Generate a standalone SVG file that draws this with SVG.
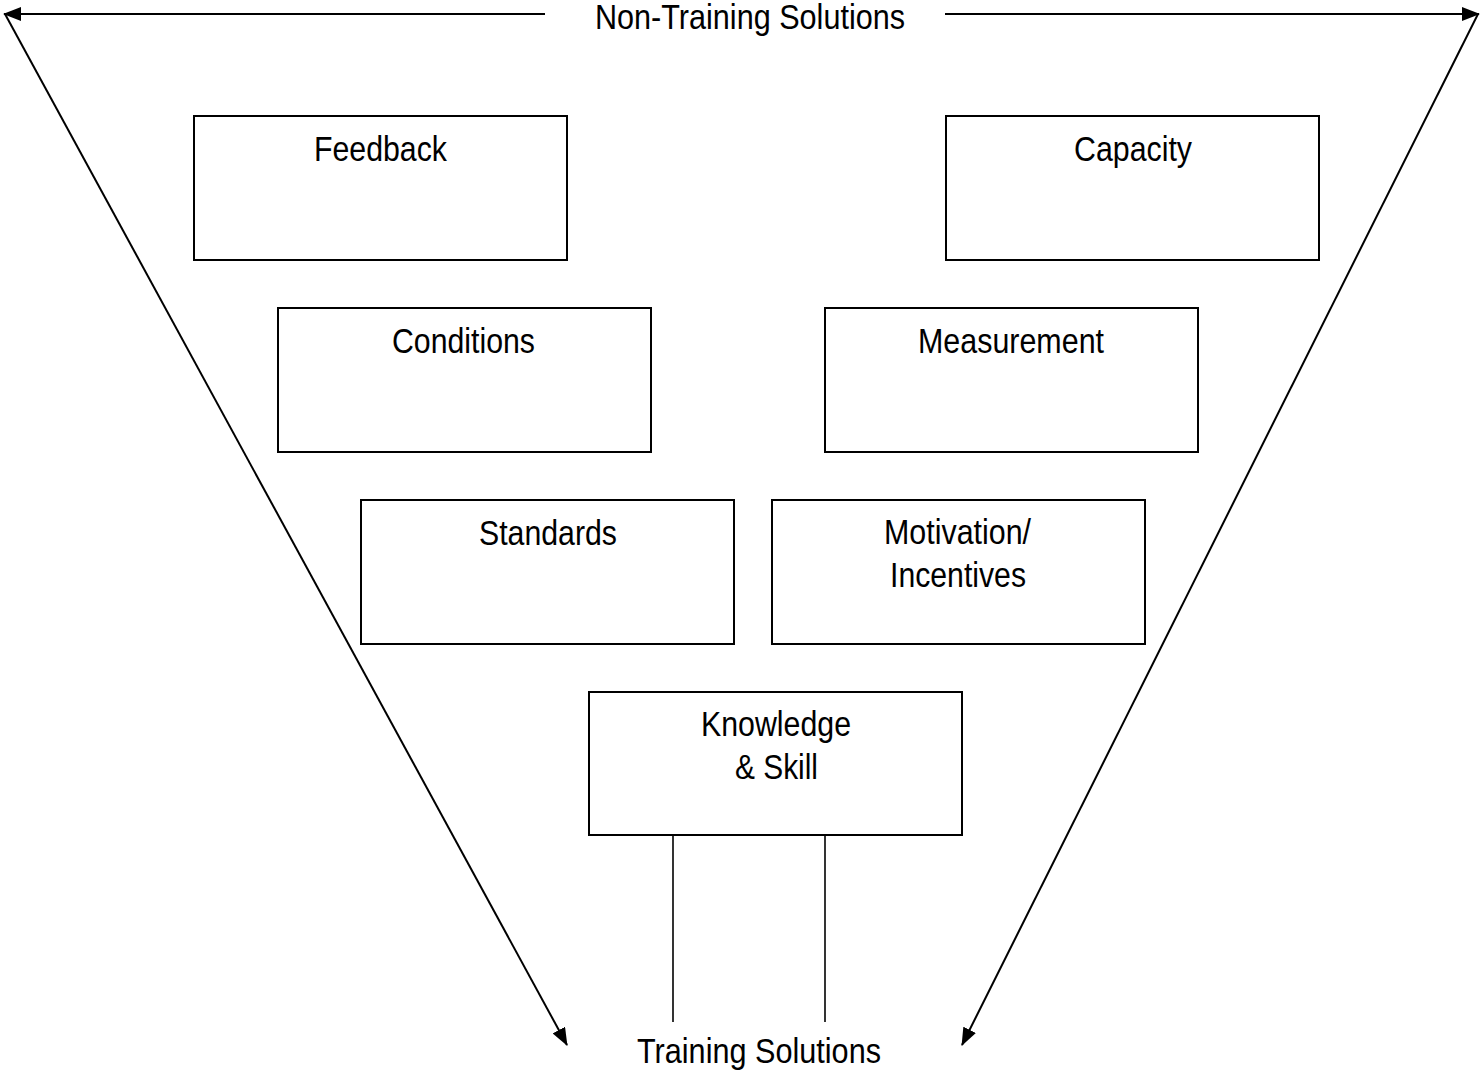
<svg xmlns="http://www.w3.org/2000/svg" width="1481" height="1071" viewBox="0 0 1481 1071">
  <style>
    .box { fill: #fff; stroke: #000; stroke-width: 2; }
    .lbl { font-family: "Liberation Sans", Arial, sans-serif; font-size: 35px; fill: #000; text-anchor: middle; }
    .ln { fill: none; stroke: #000; stroke-width: 2; }
    .thin { fill: none; stroke: #000; stroke-width: 1.6; }
  </style>
  <defs>
    <marker id="arrow" viewBox="0 0 18 14" refX="17" refY="7" markerWidth="18" markerHeight="14" markerUnits="userSpaceOnUse" orient="auto">
      <path d="M0,0 L18,7 L0,14 Z" fill="#000"/>
    </marker>
  </defs>
  <rect width="1481" height="1071" fill="#fff"/>

  <g id="connectors">
    <line class="ln" x1="545" y1="14" x2="4" y2="14" marker-end="url(#arrow)"/>
    <line class="ln" x1="945" y1="14" x2="1479" y2="14" marker-end="url(#arrow)"/>
    <line class="ln" x1="5" y1="14" x2="567" y2="1045" marker-end="url(#arrow)"/>
    <line class="ln" x1="1478" y1="14" x2="962" y2="1045" marker-end="url(#arrow)"/>
    <line class="thin" x1="673" y1="829" x2="673" y2="1022"/>
    <line class="thin" x1="825" y1="829" x2="825" y2="1022"/>
  </g>

  <g id="label-non-training">
    <text class="lbl" x="750" y="29" textLength="310" lengthAdjust="spacingAndGlyphs">Non-Training Solutions</text>
  </g>
  <g id="label-training">
    <text class="lbl" x="759" y="1063" textLength="244" lengthAdjust="spacingAndGlyphs">Training Solutions</text>
  </g>

  <g id="node-feedback">
    <rect class="box" x="194" y="116" width="373" height="144"/>
    <text class="lbl" x="380.5" y="161" textLength="133" lengthAdjust="spacingAndGlyphs">Feedback</text>
  </g>
  <g id="node-capacity">
    <rect class="box" x="946" y="116" width="373" height="144"/>
    <text class="lbl" x="1133" y="161" textLength="118" lengthAdjust="spacingAndGlyphs">Capacity</text>
  </g>
  <g id="node-conditions">
    <rect class="box" x="278" y="308" width="373" height="144"/>
    <text class="lbl" x="463.5" y="353" textLength="143" lengthAdjust="spacingAndGlyphs">Conditions</text>
  </g>
  <g id="node-measurement">
    <rect class="box" x="825" y="308" width="373" height="144"/>
    <text class="lbl" x="1011" y="353" textLength="186" lengthAdjust="spacingAndGlyphs">Measurement</text>
  </g>
  <g id="node-standards">
    <rect class="box" x="361" y="500" width="373" height="144"/>
    <text class="lbl" x="548" y="545" textLength="138" lengthAdjust="spacingAndGlyphs">Standards</text>
  </g>
  <g id="node-motivation">
    <rect class="box" x="772" y="500" width="373" height="144"/>
    <text class="lbl" x="957.5" y="544" textLength="147" lengthAdjust="spacingAndGlyphs">Motivation/</text>
    <text class="lbl" x="958" y="587" textLength="136" lengthAdjust="spacingAndGlyphs">Incentives</text>
  </g>
  <g id="node-knowledge">
    <rect class="box" x="589" y="692" width="373" height="143"/>
    <text class="lbl" x="776" y="736" textLength="150" lengthAdjust="spacingAndGlyphs">Knowledge</text>
    <text class="lbl" x="776.5" y="779" textLength="83" lengthAdjust="spacingAndGlyphs">&amp; Skill</text>
  </g>
</svg>
